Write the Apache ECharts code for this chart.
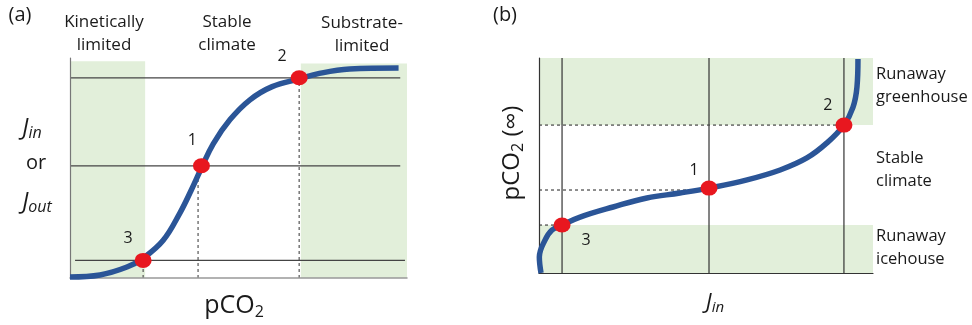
<!DOCTYPE html>
<html><head><meta charset="utf-8">
<script src="https://cdn.jsdelivr.net/npm/echarts@6/dist/echarts.min.js"></script>
<style>html,body{margin:0;padding:0;background:#fff}#c{width:972px;height:325px}</style>
</head><body><div id="c"></div>
<script>
// ---------- DATA (panel a) ----------
const curveA = [[0,0.5],[8.9,1.4],[16.9,5],[21.7,9],[27.6,17],[32.6,29.5],[36,40],[39,50],[42.5,61],[47.5,72],[53.4,81],[60,87],[68,90.5],[74,93],[83,95],[97.5,95.5]];
const pointsA = [[21.7,8],[39,51],[68,91]];
const pointLabelsA = ['3','1','2'];
const hLevelsA = [8, 51, 91];
const hSpansA = [[1.5,99.4],[0,98],[0,98]];
const dropXA = [21.7, 38, 68];
const shadeA = [[[0,0],[22.3,98.5]], [[68.5,0],[100,97.5]]];
const regionLabelsA = ['Kinetically\nlimited','Stable\nclimate','Substrate-\nlimited'];
// ---------- DATA (panel b) ----------
const curveB = [[0.6,0],[0.1,7.4],[1.8,15.3],[3.9,20],[6.9,22.3],[12.3,26],[22.2,30.7],[32.3,34.9],[42.2,37.2],[50.9,39.5],[62.3,43.3],[72.2,47.9],[80.2,53.5],[86.2,60.5],[91.3,68.8],[94,77],[95.2,86.5],[95.5,99.5]];
const pointsB = [[6.9,22.3],[50.9,39.5],[91.3,68.8]];
const pointLabelsB = ['3','1','2'];
const vLevelsB = [6.9, 50.9, 91.3];
const dashLevelsB = [22.3, 38.6, 68.8];
const dashEndB = [7.5, 50.9, 91.3];
const shadeB = [[[0,68.8],[100,100]], [[0,0],[100,22.3]]];
const regionLabelsB = ['Runaway\ngreenhouse','Stable\nclimate','Runaway\nicehouse'];

const FONT = '"Open Sans"';
const BLUE = '#2b5597', RED = '#e8171f', GREEN = '#e2efda', INK = '#1a1a1a';
const labelOffA = [[-15,-22],[-9,-25],[-17,-21]];
const labelOffB = [[24,15],[-15,-18],[-16,-20]];

const series = [];
function seg(gi, pts, dashed, color, width){
  series.push({type:'line', xAxisIndex:gi, yAxisIndex:gi, data:pts, symbol:'none', silent:true,
    lineStyle:{color:color||'#333', width:width||1, type:dashed?[3,3]:'solid'}, z:3, animation:false});
}
// Panel a shading
series.push({type:'line', xAxisIndex:0, yAxisIndex:0, data:[], silent:true,
  markArea:{silent:true, itemStyle:{color:GREEN}, data:shadeA.map(a=>[{coord:a[0]},{coord:a[1]}])}, z:1});
hLevelsA.forEach((y,i)=>seg(0,[[hSpansA[i][0],y],[hSpansA[i][1],y]],false,'#444',1.2));
dropXA.forEach((x,i)=>seg(0,[[x,0],[x,pointsA[i][1]]],true,'#555',1.2));
series.push({type:'line', xAxisIndex:0, yAxisIndex:0, data:curveA, smooth:0.4, symbol:'none',
  lineStyle:{color:BLUE, width:5.5}, z:5, animation:false});
series.push({type:'scatter', xAxisIndex:0, yAxisIndex:0, symbolSize:[17,15], z:10, animation:false,
  itemStyle:{color:RED, opacity:1},
  data:pointsA.map((p,i)=>({value:p, label:{show:true, formatter:pointLabelsA[i], offset:labelOffA[i]}})),
  label:{position:'inside', color:INK, fontSize:16, fontFamily:FONT}});

// Panel b shading
series.push({type:'line', xAxisIndex:1, yAxisIndex:1, data:[], silent:true,
  markArea:{silent:true, itemStyle:{color:GREEN}, data:shadeB.map(a=>[{coord:a[0]},{coord:a[1]}])}, z:1});
vLevelsB.forEach(x=>seg(1,[[x,0],[x,100]],false,'#333',1.2));
dashLevelsB.forEach((y,i)=>seg(1,[[0,y],[dashEndB[i],y]],true,'#444',1.2));
series.push({type:'line', xAxisIndex:1, yAxisIndex:1, data:curveB, smooth:0.4, symbol:'none',
  lineStyle:{color:BLUE, width:5.5}, z:5, animation:false});
series.push({type:'scatter', xAxisIndex:1, yAxisIndex:1, symbolSize:[17,15], z:10, animation:false,
  itemStyle:{color:RED, opacity:1},
  data:pointsB.map((p,i)=>({value:p, label:{show:true, formatter:pointLabelsB[i], offset:labelOffB[i]}})),
  label:{position:'inside', color:INK, fontSize:16, fontFamily:FONT}});

function txt(x,y,text,opts){
  return {type:'text', x:x, y:y, z:20, style:Object.assign({text:text, fill:INK, font:'17px '+FONT, textAlign:'center', textVerticalAlign:'middle', lineHeight:23}, opts||{})};
}
function jlabel(x,y,sub,big,small){
  return {type:'text', x:x, y:y, z:20, style:{text:'{j|J}{sub|'+sub+'}', textAlign:'center', textVerticalAlign:'middle',
    rich:{j:{fontSize:big, fontStyle:'italic', fontFamily:FONT, fill:INK}, sub:{fontSize:small, fontStyle:'italic', fontFamily:FONT, fill:INK, padding:[10,0,0,0]}}}};
}
const graphic = [
  txt(20,15,'(a)',{font:'20px '+FONT}),
  txt(104,34,regionLabelsA[0]),
  txt(227,34,regionLabelsA[1]),
  txt(362,35,regionLabelsA[2]),
  txt(505,15,'(b)',{font:'20px '+FONT}),
  txt(876,86,regionLabelsB[0],{textAlign:'left', font:'16.5px '+FONT}),
  txt(876,170,regionLabelsB[1],{textAlign:'left', font:'16.5px '+FONT}),
  txt(876,248,regionLabelsB[2],{textAlign:'left', font:'16.5px '+FONT}),
  txt(36,163,'or',{font:'20px '+FONT}),
  jlabel(32,128,'in',23,16),
  jlabel(37,202,'out',23,16),
  {type:'text', x:234, y:306, z:20, style:{text:'{p|pCO}{s|2}', textAlign:'center', textVerticalAlign:'middle', rich:{p:{fontSize:25, fontFamily:FONT, fill:INK}, s:{fontSize:16, fontFamily:FONT, fill:INK, padding:[12,0,0,0]}}}},
  jlabel(715,303,'in',22,15),
  {type:'text', x:512, y:153, z:20, rotation:Math.PI/2, style:{text:'{p|pCO}{s|2}{p| (∞)}', textAlign:'center', textVerticalAlign:'middle', rich:{p:{fontSize:24, fontFamily:FONT, fill:INK}, s:{fontSize:16, fontFamily:FONT, fill:INK, padding:[12,0,0,0]}}}}
];

const hiddenAxis = (extra)=>Object.assign({type:'value', min:0, max:100, show:true, z:4, splitLine:{show:false}, axisTick:{show:false}, axisLabel:{show:false}}, extra);
const chart = echarts.init(document.getElementById('c'), null, {renderer:'canvas'});
chart.setOption({
  animation:false,
  grid:[{left:70, top:58, width:337, height:220},{left:539, top:58, width:334, height:215}],
  xAxis:[hiddenAxis({gridIndex:0, axisLine:{show:true, lineStyle:{color:'#999', width:1.5}}}),
         hiddenAxis({gridIndex:1, axisLine:{show:true, lineStyle:{color:'#333', width:1.2}}})],
  yAxis:[hiddenAxis({gridIndex:0, axisLine:{show:true, lineStyle:{color:'#777', width:1.2}}}),
         hiddenAxis({gridIndex:1, axisLine:{show:true, lineStyle:{color:'#333', width:1.2}}})],
  series:series,
  graphic:graphic
});
</script></body></html>
